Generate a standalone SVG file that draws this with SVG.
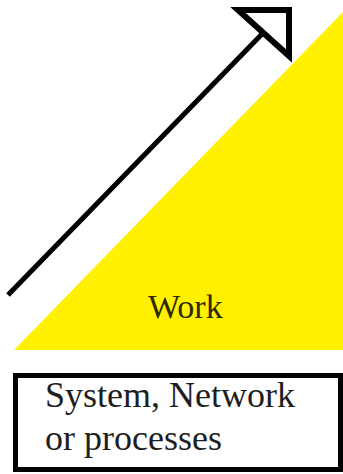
<svg xmlns="http://www.w3.org/2000/svg" width="343" height="474" viewBox="0 0 343 474">
<style>
text{font-family:"Liberation Serif","Times New Roman",serif;}
.lbl{font-size:36px;fill:#1e1e1e;}
.work{font-size:34px;fill:#2e2a00;}
</style>
<rect width="343" height="474" fill="#ffffff"/>
<g id="work">
<polygon points="343,12 343,350 14,350" fill="#fff100"/>
<text class="work" x="148" y="318">Work</text>
</g>
<g id="connectors">
<line x1="8" y1="295" x2="263" y2="33" stroke="#000" stroke-width="5"/>
<polygon points="238,10 289,10 289,56" fill="none" stroke="#000" stroke-width="6" stroke-linejoin="miter"/>
</g>
<g id="system">
<rect x="15.5" y="375.5" width="325" height="94" fill="#fff" stroke="#000" stroke-width="5"/>
<text class="lbl" x="45" y="407">System, Network</text>
<text class="lbl" x="45" y="450">or processes</text>
</g>
</svg>
